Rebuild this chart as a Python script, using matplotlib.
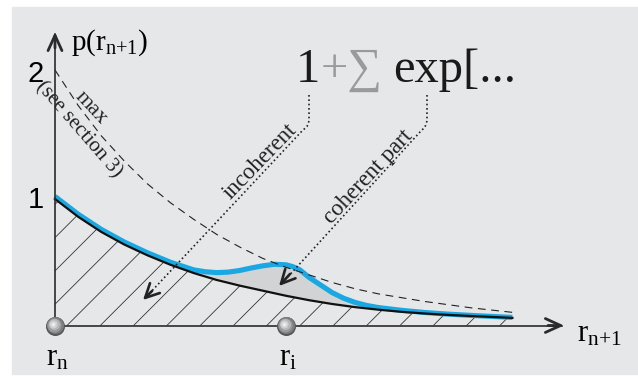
"""
    Sketch of the conditional density p(r_{n+1}): incoherent decay plus a
    coherent bump near r_i, with the upper bound (max) drawn dashed.
"""

import numpy as np
import matplotlib.pyplot as plt
from matplotlib.patches import Rectangle, Polygon

plt.rcParams.update({
    "font.family": ["Liberation Serif", "DejaVu Serif"],
    "mathtext.fontset": "custom",
    "mathtext.rm": "Liberation Serif",
    "mathtext.it": "Liberation Serif:italic",
})

# ---- data (x in units of r_i - r_n, y = p) ----
x_incoh = [0.0, 0.1, 0.2, 0.3, 0.4, 0.5, 0.6, 0.7, 0.8, 0.9, 1.0, 1.1, 1.2, 1.3, 1.4,
           1.5, 1.6, 1.7, 1.8, 1.9, 1.98]
p_incoh = [1.00, 0.86, 0.74, 0.64, 0.555, 0.48, 0.415, 0.36, 0.315, 0.275, 0.235, 0.20,
           0.17, 0.145, 0.125, 0.108, 0.095, 0.084, 0.075, 0.067, 0.06]

x_total = [0.0, 0.1, 0.2, 0.3, 0.4, 0.5, 0.55, 0.6, 0.65, 0.7, 0.75, 0.8, 0.85, 0.9,
           0.95, 1.0, 1.03, 1.06, 1.1, 1.15, 1.2, 1.25, 1.3, 1.35, 1.4, 1.5, 1.6, 1.7,
           1.8, 1.9, 1.98]
p_total = [1.02, 0.88, 0.76, 0.66, 0.575, 0.50, 0.47, 0.44, 0.425, 0.418, 0.422, 0.435,
           0.455, 0.472, 0.484, 0.48, 0.465, 0.44, 0.38, 0.32, 0.26, 0.215, 0.182, 0.158,
           0.142, 0.12, 0.103, 0.09, 0.08, 0.071, 0.064]

x_max = [0.0, 0.1, 0.2, 0.3, 0.4, 0.5, 0.6, 0.7, 0.8, 0.9, 1.0, 1.1, 1.2, 1.3, 1.4,
         1.5, 1.6, 1.7, 1.8, 1.9, 2.0]
p_max = [2.02, 1.74, 1.50, 1.30, 1.12, 0.97, 0.84, 0.72, 0.62, 0.53, 0.46, 0.40, 0.34,
         0.29, 0.25, 0.22, 0.19, 0.165, 0.14, 0.12, 0.10]

x_particles = [0.0, 1.0]
particle_labels = [r'$\mathrm{r_n}$', r'$\mathrm{r_i}$']
y_ticks = [1, 2]

# coherent bump range (shaded)
coh_lo, coh_hi = 0.6, 1.4

# ---- layout (pixels of the 638x378 picture) ----
W, H = 638, 378
X0, Y0 = 55, 325.5      # origin
SX, SY = 231, 126.5     # pixels per unit

def X(px):
    return (px - X0) / SX

def Y(py):
    return (Y0 - py) / SY

BG = '#e6e7e9'
AXC = '#2b2b2b'
BLUE = '#1aa8e2'

fig = plt.figure(figsize=(W / 100, H / 100), dpi=100)
fig.add_artist(Rectangle((12 / W, 4 / H), 1, 367 / H, transform=fig.transFigure,
                         color=BG, zorder=-10))
ax = fig.add_axes([0, 0, 1, 1])
ax.set_xlim(X(0), X(W))
ax.set_ylim(Y(H), Y(0))
ax.axis('off')

# hatched area under the incoherent part
clip = Polygon(list(zip(x_incoh, p_incoh)) + [(x_incoh[-1], 0), (0, 0)], closed=True,
               facecolor='none', edgecolor='none', transform=ax.transData)
ax.add_patch(clip)
step = 33.3 / SX
for xb in np.arange(X(67) - 8 * step, x_incoh[-1] + step, step):
    xs = np.array([xb, xb + 1.5])
    ln, = ax.plot(xs, (xs - xb) * SX / SY, color='#333333', lw=0.6, zorder=2)
    ln.set_clip_path(clip)

# coherent part shaded between the two curves
xt = np.array(x_total); pt = np.array(p_total)
xi = np.array(x_incoh); pi = np.array(p_incoh)
mt = (xt >= coh_lo) & (xt <= coh_hi)
mi = (xi >= coh_lo) & (xi <= coh_hi)
ax.fill(np.r_[xt[mt], xi[mi][::-1]], np.r_[pt[mt], pi[mi][::-1]],
        color='#d2d3d5', lw=0, zorder=2)

ax.plot(x_total, p_total, color=BLUE, lw=3.7, solid_capstyle='butt',
        solid_joinstyle='round', zorder=3)
ax.plot(x_incoh, p_incoh, color='#111111', lw=1.6, solid_joinstyle='round', zorder=4)
ax.plot(x_max, p_max, color='#222222', lw=0.8, dashes=(7, 5), zorder=4)

# axes with arrows
ax.plot([0, X(562)], [0, 0], color=AXC, lw=1.2, zorder=5)
ax.plot([0, 0], [0, Y(34)], color=AXC, lw=1.2, zorder=5)
head = dict(arrowstyle='->,head_length=1.1,head_width=0.5', lw=2.0, color=AXC,
            mutation_scale=10, shrinkA=0, shrinkB=0)
ax.annotate('', xy=(X(564), 0), xytext=(X(548), 0), arrowprops=head, zorder=5)
ax.annotate('', xy=(0, Y(32)), xytext=(0, Y(48)), arrowprops=head, zorder=5)

# particles
layers = [(19, '#555658', 0.0), (17, '#7b7c7e', 0.3), (14, '#9a9b9d', 0.8),
          (11, '#b6b7b9', 1.2), (8, '#d0d1d3', 1.6), (4, '#ececed', 1.9)]
for d, c, off in layers:
    ax.scatter(np.array(x_particles) - off / SX, np.zeros(len(x_particles)) + off / SY,
               s=(d * 0.72) ** 2, color=c, lw=0, zorder=6)
for xp, lab in zip(x_particles, particle_labels):
    ax.text(xp + X(57), Y(366), lab, fontsize=22, ha='center', va='baseline')

# tick numbers
for yt in y_ticks:
    ax.text(X(36), yt + Y(208) - 1, str(yt), family='Liberation Sans', fontsize=21,
            ha='center', va='baseline')

ax.text(X(71), Y(50), r'$\mathrm{p(r_{n{+}1})}$', fontsize=21, ha='left', va='baseline')
ax.text(X(577), Y(342), r'$\mathrm{r_{n{+}1}}$', fontsize=22, ha='left', va='baseline')

# formula
ax.text(X(296), Y(82), '1', fontsize=35, ha='left', va='baseline', color='#1a1a1a')
ax.text(X(321), Y(82), '+\u2211', fontsize=35, ha='left', va='baseline', color='#9a9a9a')
ax.text(X(393), Y(82), 'exp[...', fontsize=35, ha='left', va='baseline', color='#1a1a1a')

# labels along the lines
ax.text(X(93), Y(106), 'max', fontsize=16, rotation=-47, rotation_mode='anchor',
        ha='center', va='center_baseline', color='#222222')
ax.text(X(80), Y(128), '(see section 3)', fontsize=15, rotation=-49,
        rotation_mode='anchor', ha='center', va='center_baseline', color='#222222')
ax.text(X(258), Y(160), 'incoherent', fontsize=16.5, rotation=46, rotation_mode='anchor',
        ha='center', va='center_baseline', color='#222222')
ax.text(X(366), Y(175), 'coherent part', fontsize=16.5, rotation=47,
        rotation_mode='anchor', ha='center', va='center_baseline', color='#222222')

# dotted pointers from the formula
pointers = [
    ([309, 309, 307, 302, 148], [95, 121, 126.5, 131, 295], (152, 291), (143, 300)),
    ([427, 427, 425, 420, 285], [95, 121, 127, 132, 280], (290, 274), (279, 286)),
]
small_head = dict(arrowstyle='->,head_length=1.0,head_width=0.5', lw=1.9,
                  color='#222222', mutation_scale=10, shrinkA=0, shrinkB=0)
for pxs, pys, tail, tip in pointers:
    ax.plot([X(v) for v in pxs], [Y(v) for v in pys], color='#222222', lw=1.2,
            dashes=(1, 1.6), zorder=5)
    ax.annotate('', xy=(X(tip[0]), Y(tip[1])), xytext=(X(tail[0]), Y(tail[1])),
                arrowprops=small_head, zorder=5)

fig.savefig('out.png', dpi=100, facecolor='white')
